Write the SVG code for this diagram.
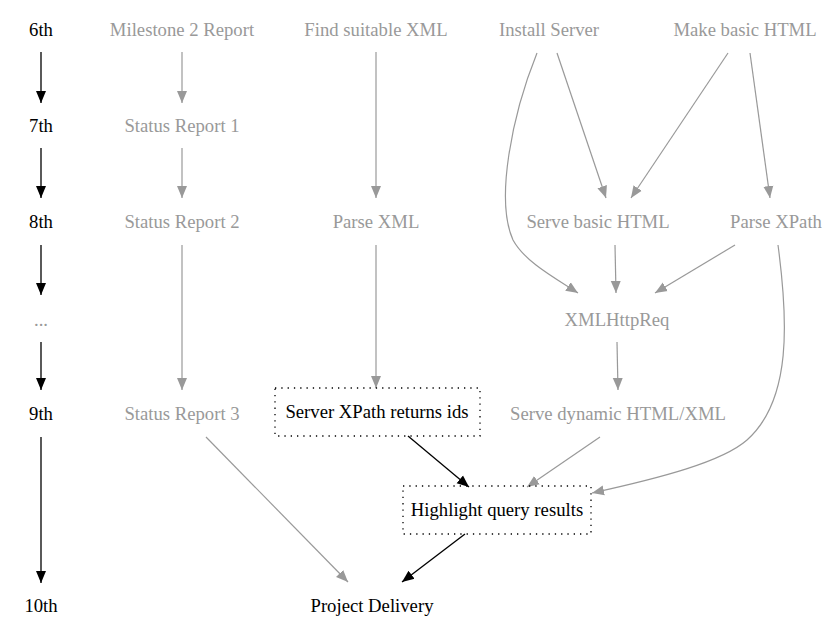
<svg xmlns="http://www.w3.org/2000/svg" width="836" height="635" viewBox="0 0 836 635" font-family="Liberation Serif, serif">
<style>
text{font-family:Liberation Serif,serif;font-size:18.7px;text-anchor:middle}
.g{fill:#999}
.k{fill:#000}
.eg{fill:none;stroke:#999;stroke-width:1.2}
.ek{fill:none;stroke:#000;stroke-width:1.3}
.box{fill:none;stroke:#000;stroke-width:1.3;stroke-dasharray:1.3,5}
</style>
<defs>
<marker id="ag" markerUnits="userSpaceOnUse" markerWidth="13" markerHeight="12" refX="12" refY="6" orient="auto"><path d="M0,1 L12,6 L0,11 Z" fill="#999"/></marker>
<marker id="ak" markerUnits="userSpaceOnUse" markerWidth="13" markerHeight="12" refX="12" refY="6" orient="auto"><path d="M0,1 L12,6 L0,11 Z" fill="#000"/></marker>
</defs>
<rect width="836" height="635" fill="#fff"/>
<g id="edges">
<path class="ek" marker-end="url(#ak)" d="M41,52 V103"/>
<path class="ek" marker-end="url(#ak)" d="M41,148 V198"/>
<path class="ek" marker-end="url(#ak)" d="M41,245 V295"/>
<path class="ek" marker-end="url(#ak)" d="M41,342 V390"/>
<path class="ek" marker-end="url(#ak)" d="M41,437 V583"/>
<path class="eg" marker-end="url(#ag)" d="M182,52 V103"/>
<path class="eg" marker-end="url(#ag)" d="M182,148 V198"/>
<path class="eg" marker-end="url(#ag)" d="M182,245 V390"/>
<path class="eg" marker-end="url(#ag)" d="M376,52 V198"/>
<path class="eg" marker-end="url(#ag)" d="M376,245 V388"/>
<path class="eg" marker-end="url(#ag)" d="M557,53 L606,198"/>
<path class="eg" marker-end="url(#ag)" d="M728,53 L631,198"/>
<path class="eg" marker-end="url(#ag)" d="M750,53 L770,198"/>
<path class="eg" marker-end="url(#ag)" d="M537,53 C512,115 495,200 513,240 C525,262 555,278 578,293"/>
<path class="eg" marker-end="url(#ag)" d="M615,245 L616,293"/>
<path class="eg" marker-end="url(#ag)" d="M735,245 L655,293"/>
<path class="eg" marker-end="url(#ag)" d="M617,342 L618,390"/>
<path class="eg" marker-end="url(#ag)" d="M778,245 C788,320 792,400 747,440 C722,462 660,478 592,493"/>
<path class="eg" marker-end="url(#ag)" d="M600,437 L527,487"/>
<path class="ek" marker-end="url(#ak)" d="M408,436 L469,487"/>
<path class="eg" marker-end="url(#ag)" d="M206,437 L348,582"/>
<path class="ek" marker-end="url(#ak)" d="M465,534 L402,582"/>
</g>
<g id="n6th"><text class="k" x="41" y="36">6th</text></g>
<g id="n7th"><text class="k" x="41" y="132">7th</text></g>
<g id="n8th"><text class="k" x="41" y="228">8th</text></g>
<g id="ndots"><text class="g" x="41" y="326">...</text></g>
<g id="n9th"><text class="k" x="41" y="420">9th</text></g>
<g id="n10th"><text class="k" x="41" y="612">10th</text></g>
<g id="milestone2"><text class="g" x="182" y="36">Milestone 2 Report</text></g>
<g id="status1"><text class="g" x="182" y="132">Status Report 1</text></g>
<g id="status2"><text class="g" x="182" y="228">Status Report 2</text></g>
<g id="status3"><text class="g" x="182" y="420">Status Report 3</text></g>
<g id="findxml"><text class="g" x="376" y="36">Find suitable XML</text></g>
<g id="parsexml"><text class="g" x="376" y="228">Parse XML</text></g>
<g id="serverxpath"><rect class="box" x="275" y="388" width="205" height="48"/><text class="k" x="377" y="418">Server XPath returns ids</text></g>
<g id="installserver"><text class="g" x="549" y="36">Install Server</text></g>
<g id="makehtml"><text class="g" x="745" y="36">Make basic HTML</text></g>
<g id="servebasic"><text class="g" x="598" y="228">Serve basic HTML</text></g>
<g id="parsexpath"><text class="g" x="776" y="228">Parse XPath</text></g>
<g id="xmlhttpreq"><text class="g" x="617" y="326">XMLHttpReq</text></g>
<g id="servedynamic"><text class="g" x="618" y="420">Serve dynamic HTML/XML</text></g>
<g id="highlight"><rect class="box" x="403" y="486" width="188" height="48"/><text class="k" x="497" y="516">Highlight query results</text></g>
<g id="delivery"><text class="k" x="372" y="612">Project Delivery</text></g>
</svg>
